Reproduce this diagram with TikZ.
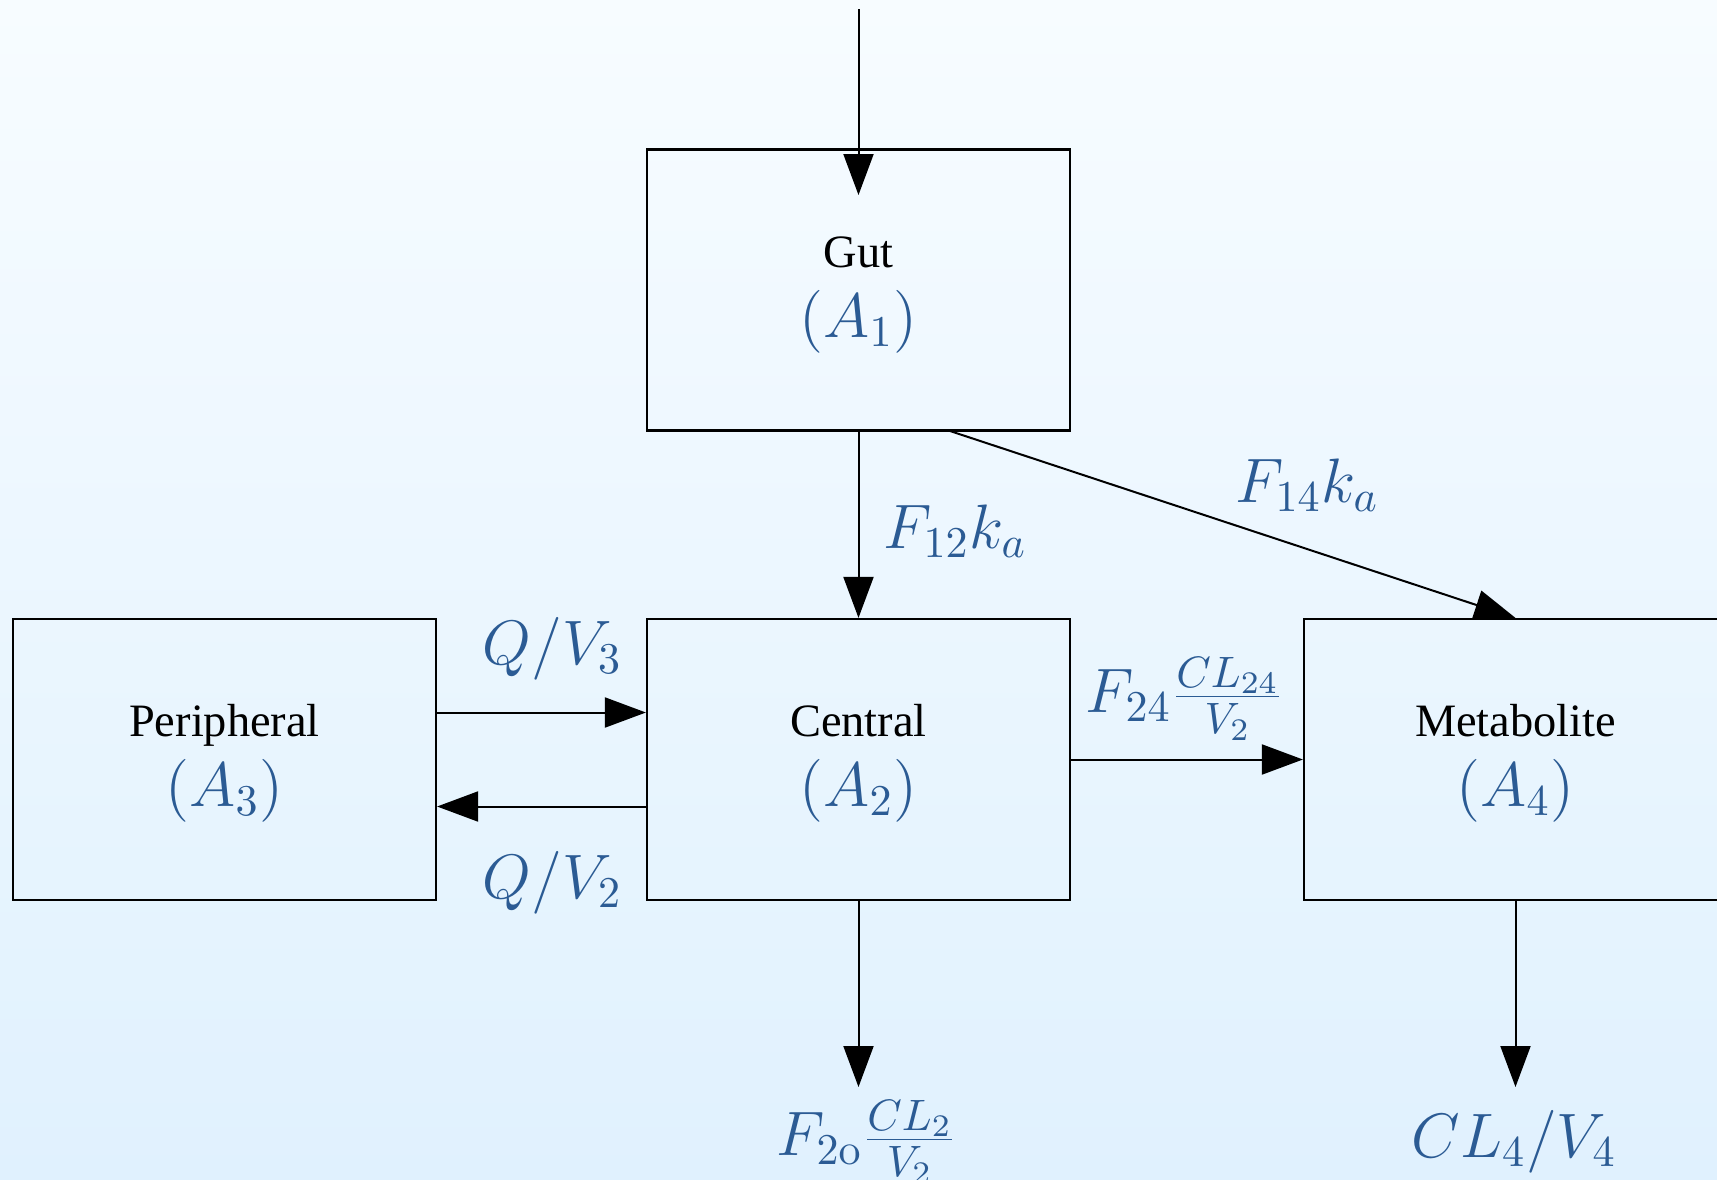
\RequirePackage{fix-cm}
\documentclass[tikz,border=0pt]{standalone}
\usepackage[no-math]{fontspec}
\setmainfont{Liberation Serif}
\usetikzlibrary{arrows.meta}
\definecolor{labblue}{RGB}{43,91,148}
\definecolor{bgtop}{RGB}{247,252,255}
\definecolor{bgbot}{RGB}{224,241,254}
\tikzset{
  comp/.style={draw=black, line width=0.55pt, minimum width=105.75pt, minimum height=70.25pt, inner sep=0pt},
  nametext/.style={anchor=base, inner sep=0pt, font=\fontsize{11.6}{14}\selectfont},
  amttext/.style={anchor=base, inner sep=0pt, text=labblue, font=\fontsize{15.7}{19}\selectfont},
  ratelab/.style={anchor=base west, inner sep=0pt, text=labblue, font=\fontsize{15.7}{19}\selectfont},
  flow/.style={line width=0.5pt, -{Triangle[length=10.25pt,width=7.5pt]}}
}
\begin{document}
\begin{tikzpicture}[x=0.25pt, y=-0.25pt]
\shade[top color=bgtop, bottom color=bgbot] (0,0) rectangle (1717,1180);
\useasboundingbox (0,0) rectangle (1717,1180);
% boxes
\node[comp] (gut) at (858.5,290) {};
\node[comp] (per) at (224.5,759.5) {};
\node[comp] (cen) at (858.5,759.5) {};
\node[comp] (met) at (1515.5,759.5) {};
% box texts
\node[nametext] (gutn) at ([yshift=23*0.25pt]gut.center) {Gut};
\node[amttext] (guta) at ([yshift=-47*0.25pt]gut.center) {$(A_1)$};
\node[nametext] (pern) at ([yshift=23*0.25pt]per.center) {Peripheral};
\node[amttext] (pera) at ([yshift=-47*0.25pt]per.center) {$(A_3)$};
\node[nametext] (cenn) at ([yshift=23*0.25pt]cen.center) {Central};
\node[amttext] (cena) at ([yshift=-47*0.25pt]cen.center) {$(A_2)$};
\node[nametext] (metn) at ([yshift=23*0.25pt]met.center) {Metabolite};
\node[amttext] (meta) at ([yshift=-47*0.25pt]met.center) {$(A_4)$};
% coordinates
\coordinate (dose) at (858.5,9);
\coordinate (dosetip) at (858.5,195);
\coordinate (gutout) at (950,431);
\coordinate (cenout) at (858.5,1087);
\coordinate (metout) at (1515.5,1087);
% connectors
\draw[flow] (dose) -- (dosetip);
\draw[flow] (gut.south) -- (cen.north);
\draw[flow] (gutout) -- (met.north);
\draw[flow] ([yshift=47*0.25pt]per.east) -- ([yshift=47*0.25pt]cen.west);
\draw[flow] ([yshift=-47*0.25pt]cen.west) -- ([yshift=-47*0.25pt]per.east);
\draw[flow] (cen.east) -- (met.west);
\draw[flow] (cen.south) -- (cenout);
\draw[flow] (met.south) -- (metout);
% rate labels
\node[ratelab] (l12) at (883,548) {$F_{12}k_a$};
\node[ratelab] (l14) at (1235,502) {$F_{14}k_a$};
\node[ratelab] (lq3) at (482,664) {$Q/V_3$};
\node[ratelab] (lq2) at (482,898) {$Q/V_2$};
\node[ratelab] (l24) at (1085,712) {$F_{24}\frac{CL_{24}}{V_2}$};
\node[ratelab] (l20) at (776,1155) {$F_{2\mathrm{o}}\frac{CL_{2}}{V_2}$};
\node[ratelab] (l4) at (1411,1157) {$CL_4/V_4$};
\end{tikzpicture}
\end{document}
